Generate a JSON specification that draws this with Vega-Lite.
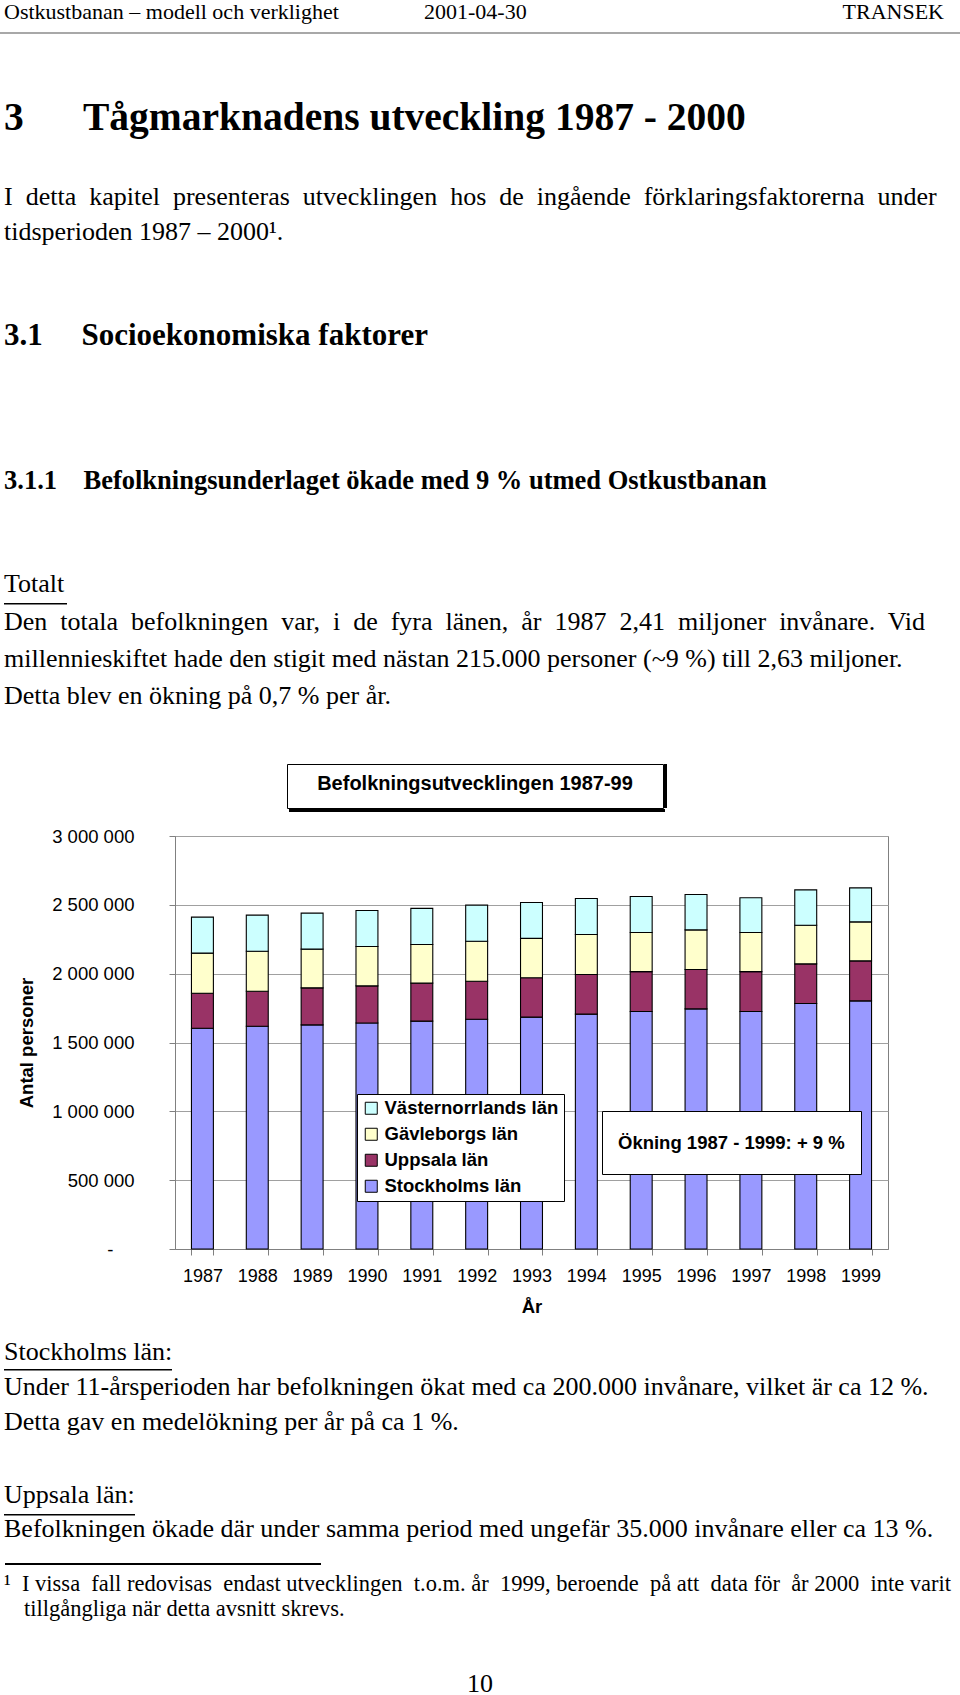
{
  "$schema": "https://vega.github.io/schema/vega-lite/v6.json",
  "padding": 0,
  "background": "white",
  "spacing": 0,
  "config": {
    "view": {"stroke": null},
    "concat": {"spacing": 0},
    "title": {"anchor": "start", "frame": "group", "baseline": "alphabetic", "color": "#000", "font": "Liberation Serif", "fontWeight": "normal", "dx": 4},
    "axis": {"labelFont": "Liberation Sans", "titleFont": "Liberation Sans", "labelColor": "#000", "titleColor": "#000"}
  },
  "vconcat": [
    {
      "spacing": 0,
      "hconcat": [
        {"width": 420, "height": 32, "data": {"values": []}, "mark": "text",
         "title": {"text": "Ostkustbanan – modell och verklighet", "fontSize": 22, "offset": -24}},
        {"width": 200, "height": 32, "data": {"values": []}, "mark": "text",
         "title": {"text": "2001-04-30", "fontSize": 22, "offset": -24}},
        {"width": 340, "height": 32, "data": {"values": []}, "mark": "text",
         "title": {"text": "TRANSEK", "anchor": "end", "fontSize": 22, "offset": -24, "dx": -16}}
      ]
    },
    {"width": 960, "height": 2, "data": {"values": []}, "mark": "text", "view": {"fill": "#a8a8a8", "stroke": null}},
    {"width": 960, "height": 116, "data": {"values": []}, "mark": "text",
     "title": {"text": "3\u00a0\u00a0\u00a0\u00a0\u00a0\u00a0Tågmarknadens utveckling 1987 - 2000", "fontSize": 39.5, "fontWeight": "bold", "offset": -104.8}},
    {"width": 960, "height": 68, "data": {"values": []}, "mark": "text",
     "title": {"text": "I\u00a0 detta\u00a0 kapitel\u00a0 presenteras\u00a0 utvecklingen\u00a0 hos\u00a0 de\u00a0 ingående\u00a0 förklaringsfaktorerna\u00a0 under", "fontSize": 26, "offset": -59.5}},
    {"width": 960, "height": 42, "data": {"values": []}, "mark": "text",
     "title": {"text": "tidsperioden 1987 – 2000¹.", "fontSize": 26, "offset": -27.2}},
    {"width": 960, "height": 120, "data": {"values": []}, "mark": "text",
     "title": {"text": "3.1\u00a0\u00a0\u00a0\u00a0\u00a0Socioekonomiska faktorer", "fontSize": 31, "fontWeight": "bold", "offset": -91.6}},
    {"width": 960, "height": 140, "data": {"values": []}, "mark": "text",
     "title": {"text": "3.1.1\u00a0\u00a0\u00a0\u00a0Befolkningsunderlaget ökade med 9 % utmed Ostkustbanan", "fontSize": 26.5, "fontWeight": "bold", "offset": -114}},
    {"width": 960, "height": 83, "data": {"values": []}, "mark": "text",
     "title": {"text": "Totalt", "fontSize": 26, "offset": -77}},
    {
      "spacing": 0,
      "hconcat": [
        {"width": 4, "height": 1.5, "data": {"values": []}, "mark": "text"},
        {"width": 63, "height": 1.5, "data": {"values": []}, "mark": "text", "view": {"fill": "#000", "stroke": null}}
      ]
    },
    {"width": 960, "height": 40.5, "data": {"values": []}, "mark": "text",
     "title": {"text": "Den\u00a0 totala\u00a0 befolkningen\u00a0 var,\u00a0 i\u00a0 de\u00a0 fyra\u00a0 länen,\u00a0 år\u00a0 1987\u00a0 2,41\u00a0 miljoner\u00a0 invånare.\u00a0 Vid", "fontSize": 26, "offset": -29.9}},
    {"width": 960, "height": 35, "data": {"values": []}, "mark": "text",
     "title": {"text": "millennieskiftet hade den stigit med nästan 215.000 personer (~9 %) till 2,63 miljoner.", "fontSize": 26, "offset": -25}},
    {"width": 960, "height": 76, "data": {"values": []}, "mark": "text",
     "title": {"text": "Detta blev en ökning på 0,7 % per år.", "fontSize": 26, "offset": -21.8}},
    {
      "spacing": 0,
      "hconcat": [
        {"width": 286, "height": 44, "data": {"values": []}, "mark": "text"},
        {"width": 376, "height": 44, "data": {"values": []}, "mark": "text", "view": {"fill": "#fff", "stroke": "#000", "strokeWidth": 1},
         "title": {"text": "Befolkningsutvecklingen 1987-99", "anchor": "middle", "dx": 0, "font": "Liberation Sans", "fontWeight": "bold", "fontSize": 20, "offset": -30}},
        {"width": 3, "height": 44, "data": {"values": []}, "mark": "text", "view": {"fill": "#000", "stroke": null}}
      ]
    },
    {
      "spacing": 0,
      "hconcat": [
        {"width": 289, "height": 17, "data": {"values": []}, "mark": "text"},
        {"width": 376, "height": 3, "data": {"values": []}, "mark": "text", "view": {"fill": "#000", "stroke": null}}
      ]
    },
    {
      "spacing": 0,
      "hconcat": [
        {"width": 17, "height": 1, "data": {"values": []}, "mark": "text"},
        {
          "width": 713,
          "height": 413,
          "view": {"stroke": "#808080", "strokeWidth": 1},
          "data": {"values": [
            {"year": "1987", "Stockholms län": 1604000, "Uppsala län": 254000, "Gävleborgs län": 291000, "Västernorrlands län": 262000},
            {"year": "1988", "Stockholms län": 1618000, "Uppsala län": 254000, "Gävleborgs län": 291000, "Västernorrlands län": 262000},
            {"year": "1989", "Stockholms län": 1628000, "Uppsala län": 269000, "Gävleborgs län": 281000, "Västernorrlands län": 262000},
            {"year": "1990", "Stockholms län": 1642000, "Uppsala län": 269000, "Gävleborgs län": 286000, "Västernorrlands län": 262000},
            {"year": "1991", "Stockholms län": 1655000, "Uppsala län": 276000, "Gävleborgs län": 281000, "Västernorrlands län": 262000},
            {"year": "1992", "Stockholms län": 1669000, "Uppsala län": 276000, "Gävleborgs län": 291000, "Västernorrlands län": 262000},
            {"year": "1993", "Stockholms län": 1684000, "Uppsala län": 286000, "Gävleborgs län": 286000, "Västernorrlands län": 261000},
            {"year": "1994", "Stockholms län": 1706000, "Uppsala län": 288000, "Gävleborgs län": 291000, "Västernorrlands län": 261000},
            {"year": "1995", "Stockholms län": 1725000, "Uppsala län": 290000, "Gävleborgs län": 284000, "Västernorrlands län": 262000},
            {"year": "1996", "Stockholms län": 1744000, "Uppsala län": 286000, "Gävleborgs län": 288000, "Västernorrlands län": 257000},
            {"year": "1997", "Stockholms län": 1725000, "Uppsala län": 290000, "Gävleborgs län": 284000, "Västernorrlands län": 252000},
            {"year": "1998", "Stockholms län": 1783000, "Uppsala län": 288000, "Gävleborgs län": 281000, "Västernorrlands län": 257000},
            {"year": "1999", "Stockholms län": 1802000, "Uppsala län": 291000, "Gävleborgs län": 283000, "Västernorrlands län": 247000}
          ]},
          "layer": [
            {
              "transform": [
                {"fold": ["Stockholms län", "Uppsala län", "Gävleborgs län", "Västernorrlands län"], "as": ["region", "pop"]},
                {"calculate": "indexof(['Stockholms län','Uppsala län','Gävleborgs län','Västernorrlands län'], datum.region)", "as": "stackorder"}
              ],
              "mark": {"type": "bar", "stroke": "#000", "strokeWidth": 1.1},
              "encoding": {
                "x": {"field": "year", "type": "ordinal",
                      "scale": {"paddingInner": 0.6, "paddingOuter": 0.3},
                      "axis": {"title": "År", "titleFontSize": 18.5, "titleFontWeight": "bold", "titlePadding": 12,
                               "labelFontSize": 18, "labelAngle": 0, "labelPadding": 12, "tickBand": "extent",
                               "tickColor": "#808080", "tickSize": 6, "domainColor": "#808080", "grid": false}},
                "y": {"field": "pop", "type": "quantitative", "stack": "zero",
                      "scale": {"domain": [0, 3000000], "nice": false},
                      "axis": {"title": "Antal personer", "titleFontSize": 18.5, "titleFontWeight": "bold", "titlePadding": 15,
                               "values": [0, 500000, 1000000, 1500000, 2000000, 2500000, 3000000],
                               "labelExpr": "datum.value == 0 ? '-' : replace(replace(format(datum.value, ','), ',', ' '), ',', ' ')",
                               "labelFontSize": 18.5,
                               "labelPadding": {"condition": {"test": "datum.value == 0", "value": 56}, "value": 35},
                               "grid": true, "gridColor": "#a0a0a0",
                               "tickColor": "#808080", "tickSize": 6, "domainColor": "#808080"}},
                "color": {"field": "region", "type": "nominal",
                          "scale": {"domain": ["Västernorrlands län", "Gävleborgs län", "Uppsala län", "Stockholms län"],
                                    "range": ["#CCFFFF", "#FFFFCC", "#993366", "#9999FF"]},
                          "legend": {"orient": "none", "legendX": 357, "legendY": 1094, "title": null,
                                     "fillColor": "#fff", "strokeColor": "#000", "padding": 5,
                                     "symbolType": "square", "symbolSize": 144, "symbolStrokeColor": "#000", "symbolStrokeWidth": 1, "symbolOpacity": 1,
                                     "labelFont": "Liberation Sans", "labelFontSize": 18.5, "labelFontWeight": "bold", "labelColor": "#000",
                                     "labelLimit": 300, "rowPadding": 7, "labelOffset": 4}},
                "order": {"field": "stackorder", "type": "quantitative", "sort": "ascending"}
              }
            },
            {
              "data": {"values": [{"note": "Ökning 1987 - 1999: + 9 %"}]},
              "mark": {"type": "point", "opacity": 0},
              "encoding": {
                "x": {"datum": "1999", "type": "ordinal"},
                "y": {"datum": 0, "type": "quantitative"},
                "shape": {"field": "note", "type": "nominal",
                          "legend": {"orient": "none", "legendX": 602, "legendY": 1111, "title": null,
                                     "fillColor": "#fff", "strokeColor": "#000", "padding": 16,
                                     "symbolSize": 961, "symbolOpacity": 0, "symbolStrokeWidth": 0, "labelOffset": -31,
                                     "labelFont": "Liberation Sans", "labelFontSize": 18.5, "labelFontWeight": "bold", "labelColor": "#000",
                                     "labelLimit": 400}}
              }
            }
          ]
        }
      ]
    },
    {"width": 960, "height": 52.5, "data": {"values": []}, "mark": "text",
     "title": {"text": "Stockholms län:", "fontSize": 26, "offset": -48.5}},
    {
      "spacing": 0,
      "hconcat": [
        {"width": 4, "height": 1.5, "data": {"values": []}, "mark": "text"},
        {"width": 168, "height": 1.5, "data": {"values": []}, "mark": "text", "view": {"fill": "#000", "stroke": null}}
      ]
    },
    {"width": 960, "height": 35, "data": {"values": []}, "mark": "text",
     "title": {"text": "Under 11-årsperioden har befolkningen ökat med ca 200.000 invånare, vilket är ca 12 %.", "fontSize": 26, "offset": -28.6}},
    {"width": 960, "height": 35, "data": {"values": []}, "mark": "text",
     "title": {"text": "Detta gav en medelökning per år på ca 1 %.", "fontSize": 26, "offset": -29.3}},
    {"width": 960, "height": 72.5, "data": {"values": []}, "mark": "text",
     "title": {"text": "Uppsala län:", "fontSize": 26, "offset": -66.7}},
    {
      "spacing": 0,
      "hconcat": [
        {"width": 4, "height": 1.5, "data": {"values": []}, "mark": "text"},
        {"width": 131, "height": 1.5, "data": {"values": []}, "mark": "text", "view": {"fill": "#000", "stroke": null}}
      ]
    },
    {"width": 960, "height": 47, "data": {"values": []}, "mark": "text",
     "title": {"text": "Befolkningen ökade där under samma period med ungefär 35.000 invånare eller ca 13 %.", "fontSize": 26, "offset": -26.2}},
    {
      "spacing": 0,
      "hconcat": [
        {"width": 5, "height": 2, "data": {"values": []}, "mark": "text"},
        {"width": 316, "height": 2, "data": {"values": []}, "mark": "text", "view": {"fill": "#000", "stroke": null}}
      ]
    },
    {"width": 960, "height": 33, "data": {"values": []}, "mark": "text",
     "title": {"text": "¹\u00a0\u00a0I vissa\u00a0 fall redovisas\u00a0 endast utvecklingen\u00a0 t.o.m. år\u00a0 1999, beroende\u00a0 på att\u00a0 data för\u00a0 år 2000\u00a0 inte varit", "fontSize": 22.5, "offset": -30.8}},
    {"width": 960, "height": 48, "data": {"values": []}, "mark": "text",
     "title": {"text": "tillgångliga när detta avsnitt skrevs.", "fontSize": 22.5, "offset": -18.8, "dx": 24}},
    {"width": 960, "height": 53, "data": {"values": []}, "mark": "text",
     "title": {"text": "10", "anchor": "middle", "dx": 0, "fontSize": 26, "offset": -47}}
  ]
}
